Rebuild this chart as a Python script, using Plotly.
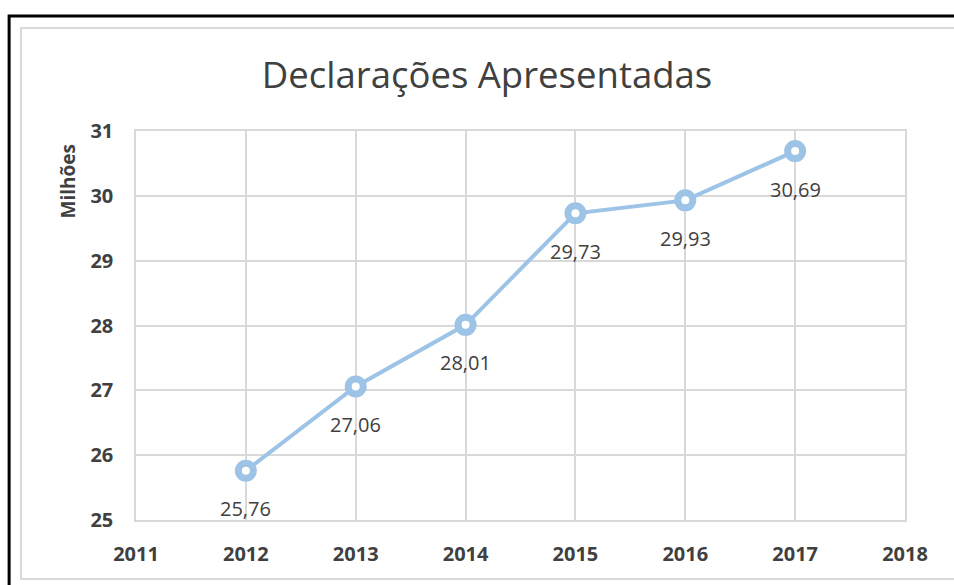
import plotly.graph_objects as go

anos = [2012, 2013, 2014, 2015, 2016, 2017]
declaracoes = [25.76, 27.06, 28.01, 29.73, 29.93, 30.69]
rotulos = ["25,76", "27,06", "28,01", "29,73", "29,93", "30,69"]

azul = "#9DC3E6"
texto = "#404040"
grade = "#D9D9D9"

fig = go.Figure()
fig.add_trace(go.Scatter(
    x=anos, y=declaracoes, mode="lines+markers",
    line=dict(color=azul, width=4),
    marker=dict(symbol="circle", size=15, color="white", line=dict(color=azul, width=7)),
    hoverinfo="x+y", showlegend=False,
))

for a, v, r in zip(anos, declaracoes, rotulos):
    fig.add_annotation(x=a, y=v, text=r, showarrow=False, yshift=-38,
                       font=dict(family="Open Sans", size=20, color=texto))

fig.add_annotation(xref="paper", yref="paper", x=-0.088, y=0.871, text="<b>Milhões</b>",
                   textangle=-90, showarrow=False, xanchor="center", yanchor="middle",
                   font=dict(family="Open Sans", size=19, color=texto))

# moldura preta e borda cinza do gráfico
fig.add_shape(type="rect", xref="paper", yref="paper", x0=-0.165, y0=-0.3, x1=1.2, y1=1.2956,
              line=dict(color="black", width=3), layer="below")
fig.add_shape(type="rect", xref="paper", yref="paper", x0=-0.1495, y0=-0.1517, x1=1.2, y1=1.2648,
              line=dict(color=grade, width=2), layer="below")

fig.update_layout(
    width=954, height=585,
    margin=dict(l=136, r=49, t=131, b=65),
    paper_bgcolor="white", plot_bgcolor="white",
    title=dict(text="Declarações Apresentadas", x=487 / 954, xanchor="center",
               y=0.872, yanchor="middle",
               font=dict(family="Open Sans", size=36.5, color=texto)),
)
fig.update_xaxes(range=[2011, 2018], dtick=1, tick0=2011, showgrid=True, gridcolor=grade, gridwidth=1.5,
                 showline=True, linecolor=grade, linewidth=1.5, mirror=True, zeroline=False,
                 ticks="outside", ticklen=15, tickcolor="rgba(0,0,0,0)",
                 tickfont=dict(family="Open Sans", size=20, color=texto, weight="bold"))
fig.update_yaxes(range=[25, 31], dtick=1, showgrid=True, gridcolor=grade, gridwidth=1.5,
                 showline=True, linecolor=grade, linewidth=1.5, mirror=True, zeroline=False,
                 ticks="outside", ticklen=17, tickcolor="rgba(0,0,0,0)",
                 tickfont=dict(family="Open Sans", size=20, color=texto, weight="bold"))

fig.write_html("out.html", config={"displayModeBar": False},
               post_script="document.body.style.margin='0';document.body.style.overflow='hidden';")
